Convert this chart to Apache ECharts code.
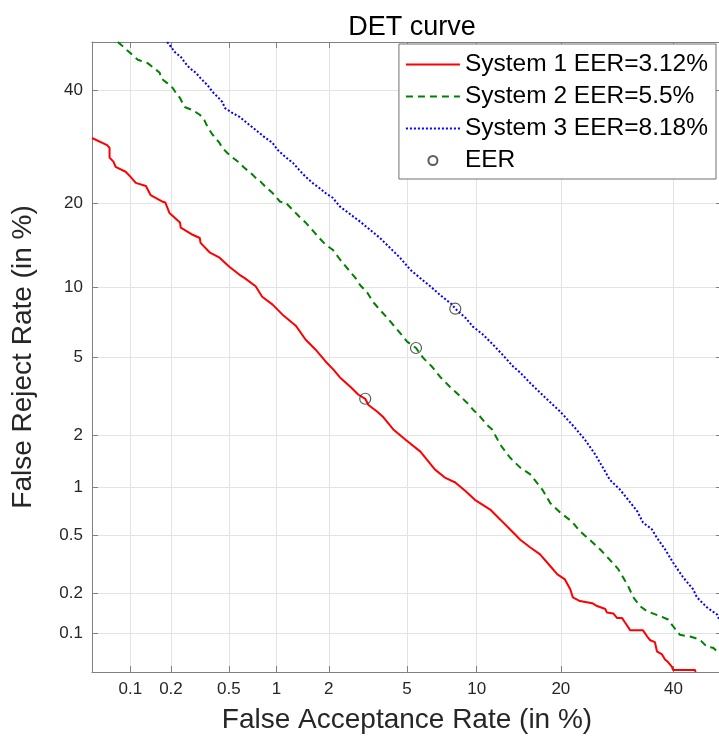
<!DOCTYPE html>
<html>
<head>
<meta charset="utf-8">
<script src="https://cdn.jsdelivr.net/npm/echarts@6/dist/echarts.min.js"></script>
<style>
html,body{margin:0;padding:0;background:#fff;}
#chart{width:719px;height:740px;}
</style>
</head>
<body>
<div id="chart"></div>
<script>
// ---- data (percent) ----
const seriesNames = ['System 1 EER=3.12%', 'System 2 EER=5.5%', 'System 3 EER=8.18%', 'EER'];
const tickValues = [0.1, 0.2, 0.5, 1, 2, 5, 10, 20, 40];
const tickLabels = ['0.1', '0.2', '0.5', '1', '2', '5', '10', '20', '40'];
const axisMin = 0.05, axisMax = 50;

const far1 = [0.05,0.066,0.069,0.069,0.074,0.077,0.092,0.100,0.110,0.131,0.142,0.175,0.182,0.195,0.232,0.235,0.285,0.319,0.323,0.372,0.434,0.506,0.587,0.63,0.743,0.816,0.946,1.10,1.30,1.48,1.69,1.92,2.12,2.30,2.62,2.87,3.12,3.24,3.58,3.85,4.30,4.92,5.76,6.68,7.43,8.18,9.01,9.84,11.3,12.35,13.4,14.6,15.8,17.1,18.5,19.5,20.6,21.4,21.8,22.9,24.9,25.7,27.1,27.4,28.5,29.2,30.1,30.6,31.6,34.0,34.8,35.4,36.3,36.7,37.7,38.3,38.9,39.7,39.9,44.4,44.5];
const frr1 = [30.8,29.5,29.0,27.3,26.6,25.7,24.9,24.1,23.1,22.6,21.2,20.2,20.1,18.6,17.3,16.6,15.7,15.3,14.7,13.6,13.0,12.0,11.2,10.9,10.1,9.17,8.51,7.65,6.92,6.01,5.40,4.76,4.35,3.99,3.58,3.28,3.12,2.90,2.68,2.50,2.15,1.89,1.62,1.28,1.14,1.07,0.95,0.84,0.73,0.63,0.547,0.466,0.416,0.372,0.309,0.271,0.250,0.213,0.186,0.175,0.169,0.161,0.153,0.144,0.142,0.131,0.131,0.122,0.106,0.106,0.095,0.089,0.086,0.073,0.069,0.063,0.060,0.055,0.052,0.052,0.050];

const far2 = [0.080,0.085,0.098,0.114,0.135,0.147,0.166,0.169,0.188,0.206,0.217,0.232,0.250,0.285,0.319,0.342,0.360,0.390,0.434,0.453,0.489,0.530,0.587,0.627,0.691,0.743,0.797,0.854,0.946,1.05,1.13,1.25,1.36,1.48,1.62,1.77,1.92,2.10,2.30,2.83,2.94,3.20,3.42,3.70,4.01,4.30,4.63,5.00,5.5,5.93,6.50,7.04,7.78,8.42,9.17,9.68,10.3,11.0,11.5,12.35,13.4,14.6,15.8,17.4,18.5,19.9,21.7,22.9,24.5,26.2,27.9,29.4,31.2,32.1,33.4,34.8,37.7,38.9,39.9,41.3,43.4,45.4,46.9,48.1,49.4,50];
const frr2 = [50,49.4,47.9,46.3,45.6,44.8,43.6,42.5,41.5,40.5,39.5,38.5,36.7,36.1,35.2,34.2,32.9,31.4,29.9,29.0,28.1,27.3,26.4,25.6,24.7,23.9,23.3,22.5,21.5,20.2,20.1,19.0,18.1,17.3,16.3,15.3,14.5,13.9,12.8,10.7,10.2,9.51,8.72,8.09,7.49,6.97,6.44,5.88,5.5,4.95,4.49,4.02,3.58,3.28,2.97,2.74,2.53,2.27,2.15,1.77,1.50,1.31,1.20,0.97,0.80,0.70,0.61,0.53,0.466,0.403,0.342,0.295,0.224,0.188,0.161,0.147,0.134,0.128,0.114,0.098,0.095,0.090,0.079,0.078,0.071,0.070];

const far3 = [0.188,0.195,0.213,0.235,0.250,0.271,0.300,0.323,0.360,0.390,0.422,0.453,0.472,0.530,0.587,0.657,0.743,0.84,0.946,1.01,1.13,1.25,1.36,1.48,1.62,1.77,1.92,2.10,2.30,2.94,3.70,4.63,5.18,5.88,6.38,7.04,7.93,8.18,9.01,9.68,10.6,11.6,12.6,13.8,14.6,15.8,17.8,19.9,22.1,23.7,25.4,26.7,27.9,29.7,31.2,32.9,34.0,35.7,36.7,38.3,39.9,41.9,44.0,44.8,46.9,49.0,49.4,50];
const frr3 = [50,49.4,47.9,46.9,45.8,44.6,43.6,42.5,41.1,39.7,38.7,37.7,36.5,35.5,34.8,33.6,32.3,31.0,29.9,28.7,27.4,26.4,25.2,24.1,23.1,22.3,21.5,20.8,19.5,17.4,15.3,13.0,11.7,10.7,10.1,9.33,8.51,8.18,7.49,6.84,6.32,5.69,5.11,4.49,4.21,3.75,3.16,2.68,2.20,1.89,1.56,1.31,1.11,0.97,0.84,0.712,0.603,0.547,0.480,0.403,0.328,0.260,0.213,0.186,0.157,0.139,0.128,0.123];

const eerFar = [3.12, 5.5, 8.18];
const eerFrr = [3.12, 5.5, 8.18];

// ---- normal deviate scale (inverse normal CDF, Acklam) ----
function probit(p) {
  const a=[-3.969683028665376e+01,2.209460984245205e+02,-2.759285104469687e+02,1.383577518672690e+02,-3.066479806614716e+01,2.506628277459239e+00];
  const b=[-5.447609879822406e+01,1.615858368580409e+02,-1.556989798598866e+02,6.680131188771972e+01,-1.328068155288572e+01];
  const c=[-7.784894002430293e-03,-3.223964580411365e-01,-2.400758277161838e+00,-2.549671651975408e+00,4.374664141464968e+00,2.938163982698783e+00];
  const d=[7.784695709041462e-03,3.224671290700398e-01,2.445134137142996e+00,3.754408661907416e+00];
  const pl=0.02425, ph=1-pl; let q, r;
  if (p < pl) { q=Math.sqrt(-2*Math.log(p)); return (((((c[0]*q+c[1])*q+c[2])*q+c[3])*q+c[4])*q+c[5])/((((d[0]*q+d[1])*q+d[2])*q+d[3])*q+1); }
  if (p <= ph) { q=p-0.5; r=q*q; return (((((a[0]*r+a[1])*r+a[2])*r+a[3])*r+a[4])*r+a[5])*q/(((((b[0]*r+b[1])*r+b[2])*r+b[3])*r+b[4])*r+1); }
  q=Math.sqrt(-2*Math.log(1-p)); return -(((((c[0]*q+c[1])*q+c[2])*q+c[3])*q+c[4])*q+c[5])/((((d[0]*q+d[1])*q+d[2])*q+d[3])*q+1);
}
const P = v => (v >= 50 ? 0 : probit(v / 100));
const pairs = (xs, ys) => xs.map((x, i) => [P(x), P(ys[i])]);
const tickPos = tickValues.map(P);
function tickFmt(v) {
  for (let i = 0; i < tickPos.length; i++) if (Math.abs(tickPos[i] - v) < 1e-6) return tickLabels[i];
  return '';
}

const FONT = 'Liberation Sans, Arial, Helvetica, sans-serif';
const AX = '#808080';
const chart = echarts.init(document.getElementById('chart'), null, {renderer: 'canvas'});

function mkX(pos, showLabel) {
  return {
    type: 'value', position: pos, min: P(axisMin), max: P(axisMax),
    axisLine: {show: true, onZero: false, lineStyle: {color: AX, width: 1}},
    axisTick: {show: true, inside: true, length: 6, customValues: tickPos, lineStyle: {color: AX}},
    axisLabel: {show: showLabel, customValues: tickPos, formatter: tickFmt, color: '#262626', fontSize: 17, fontFamily: FONT, margin: 9},
    splitLine: {show: showLabel, lineStyle: {color: '#e3e3e3', width: 1}},
    name: showLabel ? 'False Acceptance Rate (in %)' : '',
    nameLocation: 'middle', nameGap: 34,
    nameTextStyle: {fontSize: 28, color: '#262626', fontFamily: FONT}
  };
}
function mkY(pos, showLabel) {
  return {
    type: 'value', position: pos, min: P(axisMin), max: P(axisMax),
    axisLine: {show: true, onZero: false, lineStyle: {color: AX, width: 1}},
    axisTick: {show: true, inside: true, length: 6, customValues: tickPos, lineStyle: {color: AX}},
    axisLabel: {show: showLabel, customValues: tickPos, formatter: tickFmt, color: '#262626', fontSize: 17, fontFamily: FONT, margin: 9},
    splitLine: {show: showLabel, lineStyle: {color: '#e3e3e3', width: 1}},
    name: showLabel ? 'False Reject Rate (in %)' : '',
    nameLocation: 'middle', nameGap: 55, nameRotate: 90,
    nameTextStyle: {fontSize: 28, color: '#262626', fontFamily: FONT}
  };
}

const hideSym = {color: 'rgba(0,0,0,0)', borderColor: 'rgba(0,0,0,0)', borderWidth: 0};

chart.setOption({
  animation: false,
  backgroundColor: '#fff',
  title: {
    text: 'DET curve', left: 407, top: 9, textAlign: 'center',
    textStyle: {fontSize: 27, fontWeight: 'normal', color: '#000', fontFamily: FONT}
  },
  grid: {left: 92, top: 42, width: 630, height: 630, containLabel: false, outerBoundsMode: 'none'},
  xAxis: [mkX('bottom', true), mkX('top', false)],
  yAxis: [mkY('left', true), mkY('right', false)],
  legend: {
    orient: 'vertical', right: 3, top: 44,
    backgroundColor: '#fff', borderColor: '#707070', borderWidth: 1, borderRadius: 0,
    padding: [8, 8, 6, 6], itemGap: 7, itemWidth: 54, itemHeight: 9,
    textStyle: {fontSize: 24.5, color: '#000', fontFamily: FONT, lineHeight: 24},
    data: [
      {name: seriesNames[0], itemStyle: hideSym},
      {name: seriesNames[1], itemStyle: hideSym},
      {name: seriesNames[2], itemStyle: hideSym},
      {name: seriesNames[3]}
    ]
  },
  series: [
    {name: seriesNames[0], type: 'line', data: pairs(far1, frr1), showSymbol: false, symbol: 'none',
     lineStyle: {color: '#ff0000', width: 2, type: 'solid'}, itemStyle: {color: '#ff0000'}, z: 3},
    {name: seriesNames[1], type: 'line', data: pairs(far2, frr2), showSymbol: false, symbol: 'none',
     lineStyle: {color: '#008000', width: 2, type: [7, 5]}, itemStyle: {color: '#008000'}, z: 3},
    {name: seriesNames[2], type: 'line', data: pairs(far3, frr3), showSymbol: false, symbol: 'none',
     lineStyle: {color: '#0000ff', width: 2, type: [2, 2]}, itemStyle: {color: '#0000ff'}, z: 3},
    {name: seriesNames[3], type: 'scatter', data: pairs(eerFar, eerFrr), symbol: 'circle', symbolSize: 11,
     itemStyle: {color: 'rgba(0,0,0,0)', borderColor: '#333', borderWidth: 1.2}, z: 4}
  ]
});
</script>
</body>
</html>
